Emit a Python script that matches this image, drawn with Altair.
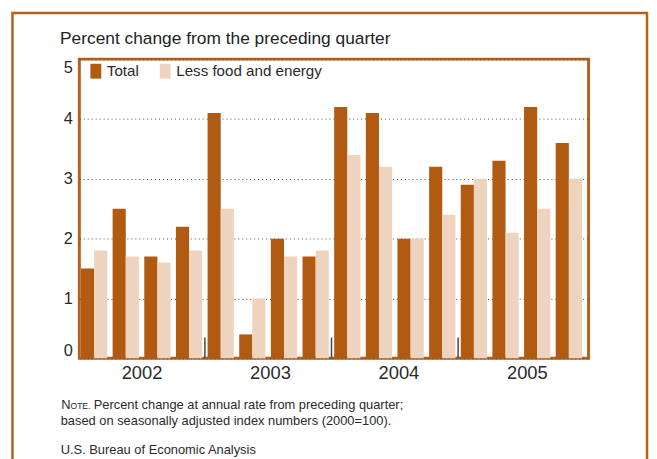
import altair as alt
import pandas as pd

# ---- data ----
years = ["2002", "2003", "2004", "2005"]
quarter_names = ["Q1", "Q2", "Q3", "Q4"]
total = [1.5, 2.5, 1.7, 2.2, 4.1, 0.4, 2.0, 1.7, 4.2, 4.1, 2.0, 3.2, 2.9, 3.3, 4.2, 3.6]
less_food_energy = [1.8, 1.7, 1.6, 1.8, 2.5, 1.0, 1.7, 1.8, 3.4, 3.2, 2.0, 2.4, 3.0, 2.1, 2.5, 3.0]
series_names = ["Total", "Less food and energy"]
y_ticks = [0, 1, 2, 3, 4, 5]

title_text = "Percent change from the preceding quarter"
note_line1 = "Percent change at annual rate from preceding quarter;"
note_line2 = "based on seasonally adjusted index numbers (2000=100)."
source_text = "U.S. Bureau of Economic Analysis"

quarters = [f"{y} {q}" for y in years for q in quarter_names]
rows = []
for i, q in enumerate(quarters):
    rows.append({"q": q, "series": series_names[0], "value": total[i]})
    rows.append({"q": q, "series": series_names[1], "value": less_food_energy[i]})
df = pd.DataFrame(rows)
sep_df = pd.DataFrame({"q": [f"{y} Q1" for y in years[1:]]})
year_df = pd.DataFrame({"year": years})

FONT = "Liberation Sans"
ORANGE = "#B5611C"
C_TOTAL = "#B05A12"
C_LFE = "#EED4BE"
TEXT = "#2a2a2a"

W, H = 514, 302

q_scale = alt.Scale(domain=quarters, paddingInner=0.17, paddingOuter=0.13, align=0.2)

bars = alt.Chart(df).mark_bar().encode(
    x=alt.X("q:N", scale=q_scale, axis=None),
    xOffset=alt.XOffset("series:N", sort=series_names),
    y=alt.Y(
        "value:Q",
        scale=alt.Scale(domain=[0, 5], nice=False),
        axis=alt.Axis(
            title=None, values=y_ticks, ticks=False, domain=False, labelFlush=True,
            labelFontSize=16.5, labelFont=FONT, labelColor=TEXT, labelPadding=7,
            grid=True, gridDash=[1, 3], gridColor="#5a4a40", gridWidth=1,
        ),
    ),
    color=alt.Color(
        "series:N",
        scale=alt.Scale(domain=series_names, range=[C_TOTAL, C_LFE]),
        legend=alt.Legend(
            title=None, orient="none", legendX=9.0, legendY=4.5, direction="horizontal",
            symbolType="M-1,-1.364H1V1.364H-1Z", symbolSize=121, symbolStrokeWidth=0,
            labelFontSize=15.3, labelFont=FONT, labelColor=TEXT, labelOffset=3.5,
            columnPadding=18, padding=0,
        ),
    ),
)

seps = alt.Chart(sep_df).mark_rule(color="#444444", strokeWidth=1.5, xOffset=-2.7).encode(
    x=alt.X("q:N", bandPosition=0, scale=q_scale, axis=None),
    y=alt.value(H),
    y2=alt.value(H - 21),
)

plot = alt.layer(bars, seps)

year_axis = alt.Chart(year_df).mark_tick(opacity=0).encode(
    x=alt.X(
        "year:N",
        scale=alt.Scale(domain=years, range=[-1.5, 517], paddingInner=0, paddingOuter=0),
        axis=alt.Axis(
            title=None, orient="bottom", ticks=False, domain=False, labelAngle=0,
            labelFontSize=18.5, labelFont=FONT, labelColor=TEXT, labelPadding=5,
        ),
    ),
    y=alt.value(H),
)

one = alt.Data(values=[{}])

def label(text, x, y, size, color=TEXT):
    return alt.Chart(one).mark_text(
        text=text, align="left", baseline="alphabetic", font=FONT, fontSize=size, color=color
    ).encode(x=alt.value(x), y=alt.value(y))

title = label(title_text, -19.5, -15.5, 17.5, "#222222")
note_n = label("N", -18.3, 353.2, 13)
note_ote = label("OTE.", -8.9, 353.2, 8.6)
note1 = label(note_line1, 14.5, 353.2, 13)
note2 = label(note_line2, -18.8, 369.2, 13)
source = label(source_text, -18.8, 398.5, 13)

outer = alt.Chart(one).mark_rect(fillOpacity=0, stroke=ORANGE, strokeWidth=2.5).encode(
    x=alt.value(-67.5), x2=alt.value(573), y=alt.value(-46.5), y2=alt.value(430)
)

chart = alt.layer(
    plot, year_axis, title, note_n, note_ote, note1, note2, source, outer
).resolve_scale(x="independent").resolve_axis(x="independent").properties(
    width=W, height=H,
    background="white",
    autosize=alt.AutoSizeParams(type="none"),
    padding={"left": 72, "top": 49.5, "right": 61, "bottom": 99.5},
).configure_view(stroke=ORANGE, strokeWidth=3)

chart.save("out.html", embed_options={"renderer": "svg", "actions": False})
